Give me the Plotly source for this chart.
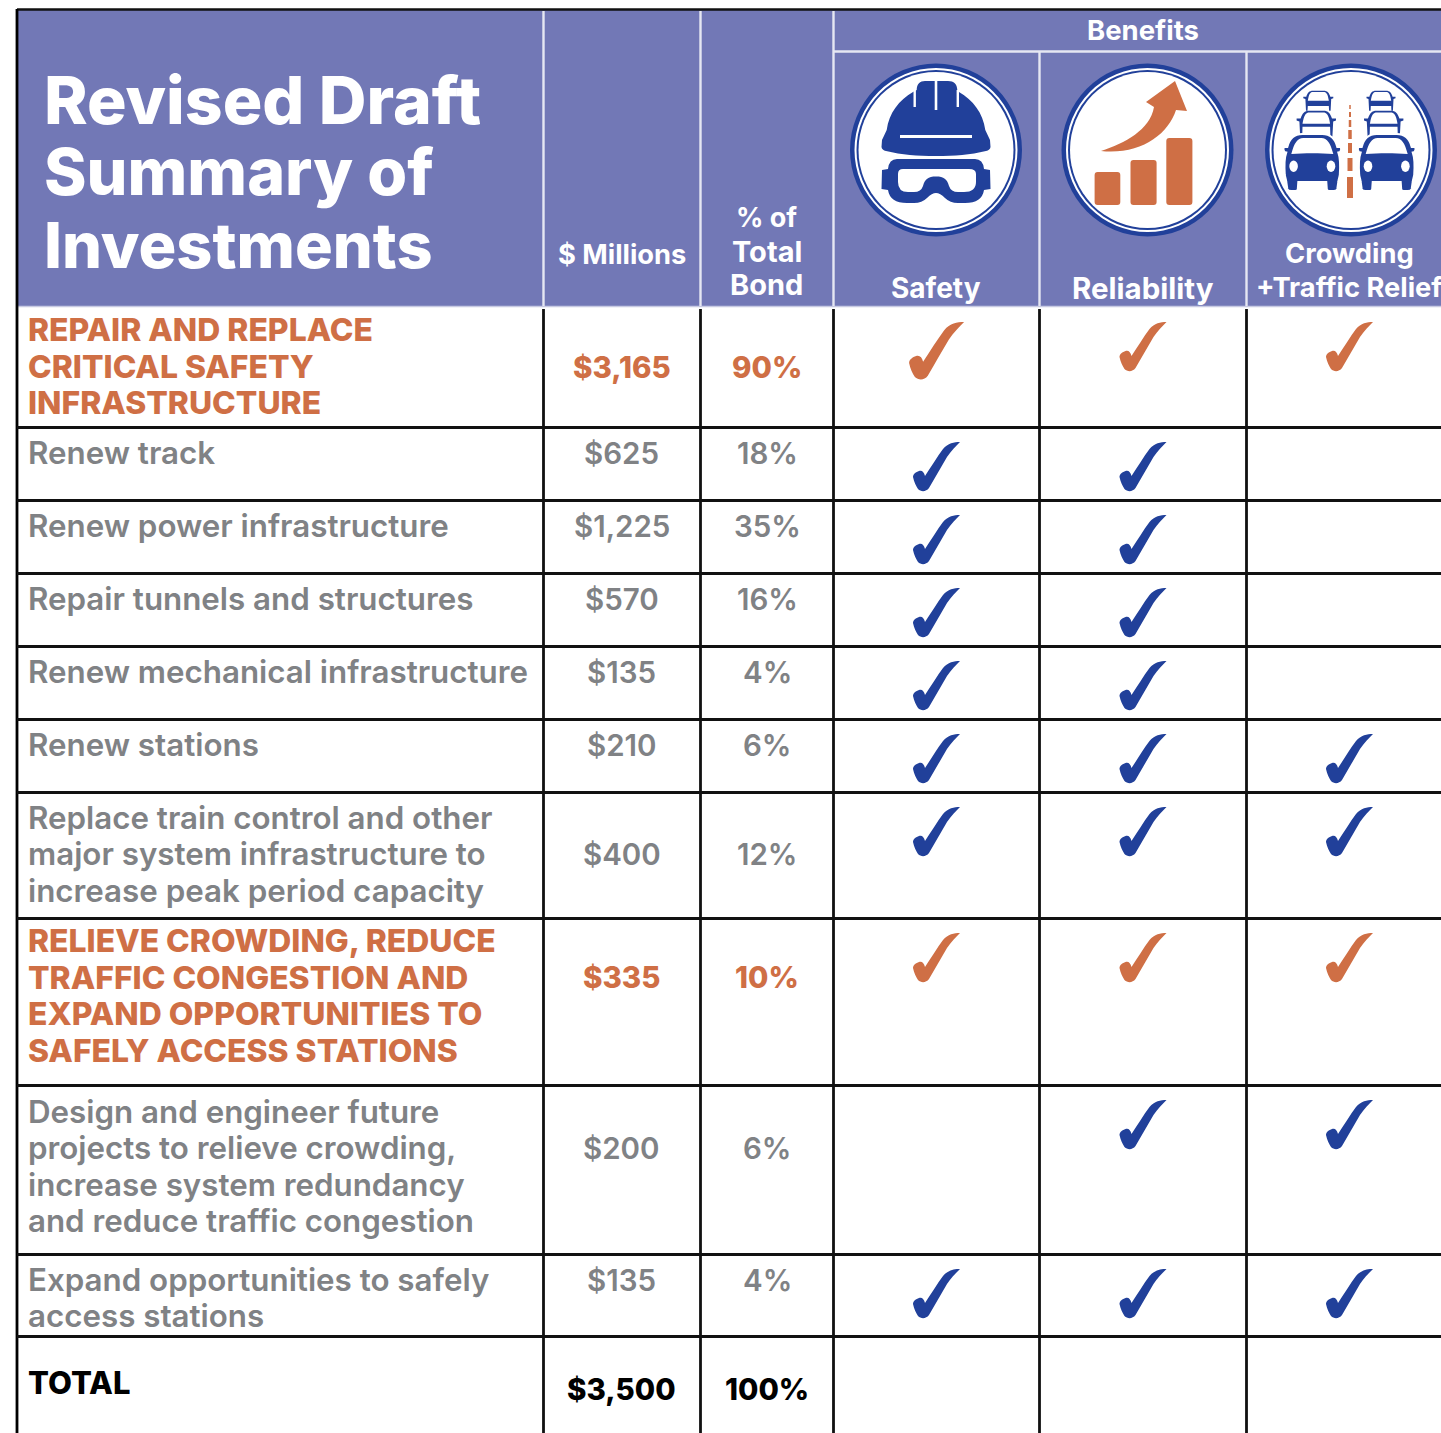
import plotly.graph_objects as go

FONT = "Inter"
PURPLE, ORANGE, BLUE, GRAY, BLACK = "#7278B6", "#CF6F45", "#21409A", "#808285", "#000000"

# ---- data ----
title_lines = ["Revised Draft", "Summary of", "Investments"]
col_heads = ["$ Millions", "% of|Total|Bond"]
benefit_names = ["Safety", "Reliability", "Crowding|+Traffic Relief"]
row_labels = [
    "REPAIR AND REPLACE|CRITICAL SAFETY|INFRASTRUCTURE",
    "Renew track",
    "Renew power infrastructure",
    "Repair tunnels and structures",
    "Renew mechanical infrastructure",
    "Renew stations",
    "Replace train control and other|major system infrastructure to|increase peak period capacity",
    "RELIEVE CROWDING, REDUCE|TRAFFIC CONGESTION AND|EXPAND OPPORTUNITIES TO|SAFELY ACCESS STATIONS",
    "Design and engineer future|projects to relieve crowding,|increase system redundancy|and reduce traffic congestion",
    "Expand opportunities to safely|access stations",
    "TOTAL",
]
millions = ["$3,165", "$625", "$1,225", "$570", "$135", "$210", "$400", "$335", "$200", "$135", "$3,500"]
percent = ["90%", "18%", "35%", "16%", "4%", "6%", "12%", "10%", "6%", "4%", "100%"]
row_kind = ["head", "item", "item", "item", "item", "item", "item", "head", "item", "item", "total"]
safety = [1, 1, 1, 1, 1, 1, 1, 1, 0, 1, 0]
reliability = [1, 1, 1, 1, 1, 1, 1, 1, 1, 1, 0]
relief = [1, 0, 0, 0, 0, 1, 1, 1, 1, 1, 0]

# ---- layout geometry ----
col_x = [17, 543.5, 700.5, 833.5, 1039.5, 1246.5, 1452]
row_y = [307, 427.5, 500.5, 573.5, 646.5, 719.5, 792.5, 918.5, 1085.5, 1254.5, 1336.5, 1440]
label_first_y = [329.5, 452.5, 525.5, 598.5, 671.5, 744.5, 817.5, 940.5, 1111.5, 1279.5, 1382.5]
value_y = [366.5, 452.5, 525.5, 598.5, 671.5, 744.5, 853.5, 976.5, 1147.5, 1279.5, 1388.5]
label_pitch = 36.5
cen_m, cen_p = 621.5, 767
cen_b = [936, 1142.5, 1349]
icon_cen = [936, 1147.5, 1351]
VALUE_SIZE = 29.5
kind_color = {"head": ORANGE, "item": GRAY, "total": BLACK}
kind_weight = {"head": 800, "item": 600, "total": 800}
kind_size = {"head": 31.9, "item": 31.3, "total": 31}

fig = go.Figure()
shapes, notes = [], []


def text(x, y, s, size, color, weight=600, anchor="left"):
    notes.append(dict(x=x, y=y, text=s, showarrow=False, xanchor=anchor, yanchor="middle",
                      xref="x", yref="y", align=anchor,
                      font=dict(family=FONT, size=size, color=color, weight=weight)))


def path(d, fill, stroke=None, sw=0):
    shapes.append(dict(type="path", path=d, fillcolor=fill, layer="above",
                       line=dict(width=sw, color=stroke or fill), xref="x", yref="y"))


def rect(x0, y0, x1, y1, fill):
    shapes.append(dict(type="rect", x0=x0, y0=y0, x1=x1, y1=y1, fillcolor=fill, line=dict(width=0),
                       xref="x", yref="y"))


def seg(x0, y0, x1, y1, color, w=2.6):
    shapes.append(dict(type="line", x0=x0, y0=y0, x1=x1, y1=y1, line=dict(color=color, width=w),
                       xref="x", yref="y"))


def ellipse(cx, cy, rx, ry, fill):
    shapes.append(dict(type="circle", x0=cx - rx, y0=cy - ry, x1=cx + rx, y1=cy + ry, fillcolor=fill,
                       line=dict(width=0), xref="x", yref="y"))


def check(cx, top, color, sx=1.0, sy=1.0):
    ox, oy = cx, top
    p = lambda x, y: f"{ox + x * sx:.1f},{oy + y * sy:.1f}"
    d = ("M" + p(24, 0) + " C" + p(18, 0) + " " + p(12, 1) + " " + p(7, 7) +
         " C" + p(1, 15) + " " + p(-5, 25) + " " + p(-11, 34) +
         " C" + p(-12, 30) + " " + p(-14, 28) + " " + p(-17, 29) +
         " C" + p(-20, 30) + " " + p(-23, 32) + " " + p(-23, 35) +
         " C" + p(-22, 40) + " " + p(-20, 44) + " " + p(-18, 47) +
         " C" + p(-15, 50) + " " + p(-10, 50) + " " + p(-7, 46) +
         " C" + p(-1, 36) + " " + p(5, 25) + " " + p(11, 15) +
         " C" + p(15, 9) + " " + p(20, 4) + " " + p(24, 0) + " Z")
    path(d, color)


# ---- header block ----
rect(18, 10, 1441, 306, PURPLE)
seg(17, 9.5, 1441, 9.5, "#111111", 2.6)
seg(833, 51.5, 1441, 51.5, "#E6E7F2", 2.4)
seg(17, 306.5, 1441, 306.5, "#C8CAE3", 1.5)
for x in col_x[1:4]:
    seg(x, 11, x, 306, "#E6E7F2", 2.4)
for x in col_x[4:6]:
    seg(x, 52, x, 306, "#E6E7F2", 2.4)

# ---- grid ----
seg(17, 9, 17, 1433, BLACK, 2.8)
for x in col_x[1:6]:
    seg(x, 309, x, 1433, "#111111", 2.8)
for y in row_y[1:-1]:
    seg(17, y, 1441, y, "#111111", 2.8)

# ---- header text ----
for line, y, s in zip(title_lines, [100, 172, 245], [66, 64.5, 63]):
    text(42, y, line, s, "#FFFFFF", 800)
text(cen_m, 254.5, col_heads[0], 27.3, "#FFFFFF", 700, "center")
for line, y, s in zip(col_heads[1].split("|"), [217.5, 251.5, 284.5], [27, 29, 29]):
    text(cen_p - 0.5, y, line, s, "#FFFFFF", 700, "center")
text(1142.5, 30, "Benefits", 27.5, "#FFFFFF", 700, "center")
text(cen_b[0], 287.5, benefit_names[0], 28, "#FFFFFF", 700, "center")
text(cen_b[1], 287.5, benefit_names[1], 29.5, "#FFFFFF", 700, "center")
for line, y in zip(benefit_names[2].split("|"), [253.5, 287.5]):
    text(cen_b[2], y, line, 27.3, "#FFFFFF", 700, "center")

# ---- body ----
for i, label in enumerate(row_labels):
    k = row_kind[i]
    c, w = kind_color[k], kind_weight[k]
    for j, line in enumerate(label.split("|")):
        text(26, label_first_y[i] + j * label_pitch, line, kind_size[k], c, w)
    text(cen_m, value_y[i], millions[i], VALUE_SIZE, c, w, "center")
    text(cen_p, value_y[i], percent[i], VALUE_SIZE, c, w, "center")
    for cx, flags in zip(cen_b, [safety, reliability, relief]):
        if flags[i]:
            top = int(row_y[i]) + 15
            col = ORANGE if k == "head" else BLUE
            big = i == 0 and cx == cen_b[0]
            check(cx, top, col, 1.17 if big else 1.0, 1.17 if big else 1.0)

# ---- icons ----
CY = 150
for cx in icon_cen:
    ellipse(cx, CY, 86, 86.5, BLUE)
    ellipse(cx, CY, 81.5, 82, "#FFFFFF")
    ellipse(cx, CY, 79.5, 80, BLUE)
    ellipse(cx, CY, 77.5, 78, "#FFFFFF")

# helmet
path("M882,140 L886.7,130 C889,113 899,100 913,92 L916.7,90 C916.7,84 920,81 925,81 L948,81 "
     "C954,81 957,84 957.3,90 L959,92 C973,100 983,113 985.3,130 L990,140 L990.5,147 Q990,150 986,151 "
     "C970,155 955,156 936,156 C917,156 902,155 886,151 Q882,150 881.5,147 Z", BLUE)
seg(914.7, 90, 914.7, 107, "#FFFFFF", 2.4)
seg(957.8, 90, 957.8, 107, "#FFFFFF", 2.4)
seg(936, 80, 936, 110, "#FFFFFF", 2.6)
seg(900, 136.5, 972, 136.5, "#FFFFFF", 3)
# goggles
path("M897,159 L975,159 Q983,159 984,169 L990,170 L990.5,189 L984,190 Q982,203 965,203 L958,203 "
     "Q950,203 945,198 Q940,193 936,193 Q932,193 927,198 Q922,203 914,203 L907,203 Q890,203 888,190 "
     "L881.5,189 L882,170 L888,169 Q889,159 897,159 Z", BLUE)
path("M903,169 L969,169 Q976,169 976,174 L976,182 Q976,192 964,192 L958,192 Q951,192 949,186 "
     "C947,179 944,176.5 936,176.5 C928,176.5 925,179 923,186 Q921,192 914,192 L908,192 Q898,192 898,182 "
     "L898,174 Q898,169 903,169 Z", "#FFFFFF")

# bars + arrow
for x0, x1, y0 in [(1094.6, 1120.3, 172), (1130.5, 1156.6, 160), (1166.3, 1192.4, 138)]:
    path(f"M{x0 + 3},{y0} L{x1 - 3},{y0} Q{x1},{y0} {x1},{y0 + 3} L{x1},202 Q{x1},205 {x1 - 3},205 "
         f"L{x0 + 3},205 Q{x0},205 {x0},202 L{x0},{y0 + 3} Q{x0},{y0} {x0 + 3},{y0} Z", ORANGE)
path("M1175,81 L1187,111 L1176,110 C1168,135 1140,155 1101,151 C1125,143 1150,130 1154,107 L1146,102 Z", ORANGE)


# cars
def outline_car(c, w, y0, y1, shield_bot, band_bot):
    h = y1 - y0
    P = lambda a, b: f"{c + a * w:.1f},{y0 + b * h:.1f}"
    path("M" + P(-.18, 0) + " C" + P(-.3, 0) + " " + P(-.36, .1) + " " + P(-.4, .3) + " L" + P(-.5, .3) +
         " L" + P(-.5, .38) + " L" + P(-.43, .42) + " L" + P(-.41, 1) + " L" + P(-.36, 1) + " L" + P(-.35, band_bot) +
         " L" + P(.35, band_bot) + " L" + P(.36, 1) + " L" + P(.41, 1) + " L" + P(.43, .42) + " L" + P(.5, .38) +
         " L" + P(.5, .3) + " L" + P(.4, .3) + " C" + P(.36, .1) + " " + P(.3, 0) + " " + P(.18, 0) + " Z", BLUE)
    path("M" + P(-.17, .07) + " C" + P(-.27, .07) + " " + P(-.31, .15) + " " + P(-.35, shield_bot) + " L" +
         P(.35, shield_bot) + " C" + P(.31, .15) + " " + P(.27, .07) + " " + P(.17, .07) + " Z", "#FFFFFF")


def big_car(c):
    m = 29.5
    path(f"M{c - 10},134 C{c - 19},134 {c - 23},139 {c - 25},147 L{c - m + 1},147 Q{c - m},149 {c - m + 1.5},152 "
         f"L{c - 26},152.5 C{c - 28},158 {c - 28},168 {c - 27.5},175 C{c - 27},178 {c - 26},180 {c - 26},182 "
         f"L{c - 25},189 Q{c - 24.5},191 {c - 21},191 L{c - 17},191 Q{c - 14.5},191 {c - 14.5},189 L{c - 14},182 "
         f"L{c + 14},182 L{c + 14.5},189 Q{c + 14.5},191 {c + 17},191 L{c + 21},191 Q{c + 24.5},191 {c + 25},189 "
         f"L{c + 26},182 C{c + 26},180 {c + 27},178 {c + 27.5},175 C{c + 28},168 {c + 28},158 {c + 26},152.5 "
         f"L{c + m - 1.5},152 Q{c + m},149 {c + m - 1},147 L{c + 25},147 C{c + 23},139 {c + 19},134 {c + 10},134 Z",
         BLUE, "#FFFFFF", 2)
    path(f"M{c - 9},138 C{c - 15},138 {c - 18},143 {c - 21},154 C{c - 8},153 {c + 8},153 {c + 21},154 "
         f"C{c + 18},143 {c + 15},138 {c + 9},138 Z", "#FFFFFF")
    for dx in (-18.7, 18.7):
        ellipse(c + dx, 166.3, 4.3, 5.7, "#FFFFFF")


outline_car(1318.3, 30, 90.7, 110.7, .5, .77)
outline_car(1381, 29, 90.7, 110.7, .5, .77)
outline_car(1316.3, 39.3, 110.7, 136.7, .5, .62)
outline_car(1383.7, 39.3, 110.7, 136.7, .5, .62)
big_car(1312.3)
big_car(1386.7)
for y0, y1, w in [(105, 109, 1.5), (112, 117, 2), (120, 127, 2.5), (130, 139, 3.5), (143, 153, 4),
                  (158, 171, 5), (177, 198, 6)]:
    rect(1350 - w / 2, y0, 1350 + w / 2, y1, ORANGE)

fig.update_layout(
    width=1441, height=1433, margin=dict(l=0, r=0, t=0, b=0),
    paper_bgcolor="#FFFFFF", plot_bgcolor="#FFFFFF", showlegend=False,
    xaxis=dict(range=[0, 1441], visible=False, fixedrange=True),
    yaxis=dict(range=[1433, 0], visible=False, fixedrange=True),
    shapes=shapes, annotations=notes,
)
fig.write_html("out.html", config=dict(displayModeBar=False),
               post_script="document.body.style.margin='0';document.documentElement.style.overflow='hidden';")
